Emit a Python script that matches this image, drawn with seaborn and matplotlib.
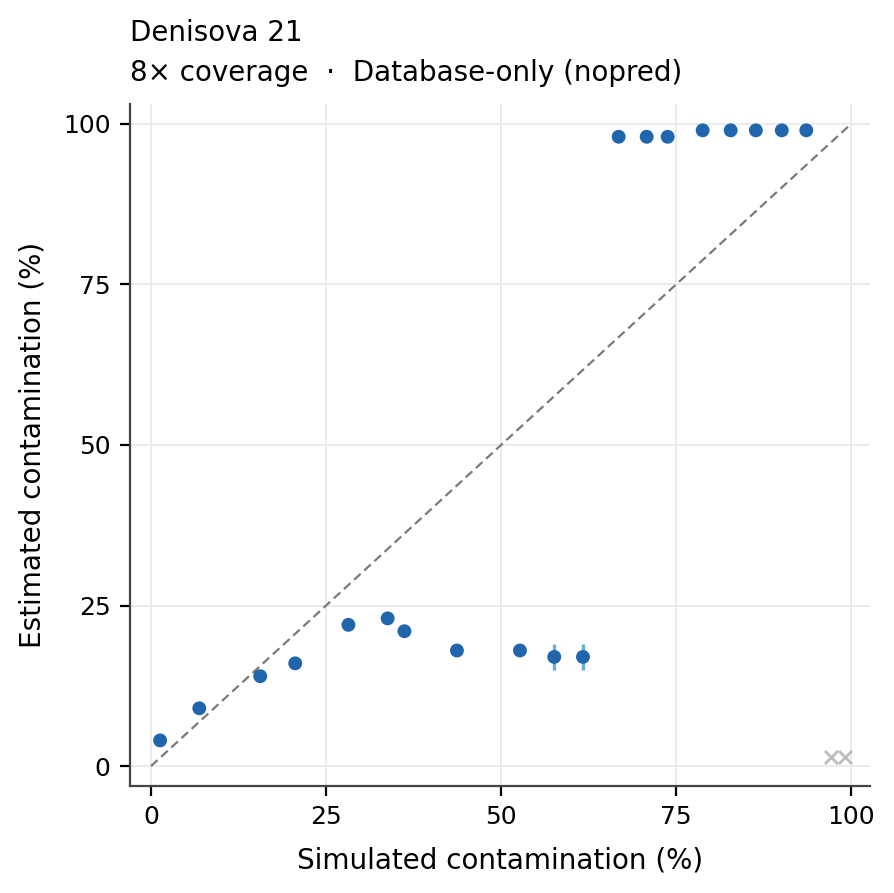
import numpy as np
import pandas as pd
import matplotlib
matplotlib.use("Agg")
import matplotlib.pyplot as plt
import seaborn as sns

simulated = [1.3, 6.9, 15.6, 20.6, 28.2, 33.8, 36.2, 43.7, 52.7, 57.6, 61.7,
             66.8, 70.8, 73.8, 78.8, 82.8, 86.4, 90.1, 93.6]
estimated = [4, 9, 14, 16, 22, 23, 21, 18, 18, 17, 17,
             98, 98, 98, 99, 99, 99, 99, 99]
err_lo = [0, 0, 0, 0, 0, 0, 0, 0, 0, 2.0, 2.0, 0, 0, 0, 0, 0, 0, 0, 0]
err_hi = [0, 0, 0, 0, 0, 0, 0, 0, 0, 2.0, 2.0, 0, 0, 0, 0, 0, 0, 0, 0]
failed_x = [97.1, 99.1]
failed_y = [1.4, 1.4]

df = pd.DataFrame({"sim": simulated, "est": estimated, "lo": err_lo, "hi": err_hi})
dff = pd.DataFrame({"sim": failed_x, "est": failed_y})

sns.set_theme(style="white")
plt.rcParams['font.family'] = ['DejaVu Sans']
plt.rcParams['text.color'] = 'black'
plt.rcParams['axes.labelcolor'] = 'black'

fig = plt.figure(figsize=(4.47, 4.465), dpi=200)
ax = fig.add_axes([130/894, 1 - 786/893, 740/894, 682/893])

ax.grid(True, color="#ebebeb", linewidth=0.7)
ax.set_axisbelow(True)

ax.plot([0, 100], [0, 100], ls=(0, (4, 2.2)), color="#7a7a7a", lw=0.8, zorder=1)

m = (df["lo"] > 0) | (df["hi"] > 0)
ax.errorbar(df.loc[m, "sim"], df.loc[m, "est"], yerr=[df.loc[m, "lo"], df.loc[m, "hi"]],
            fmt="none", ecolor="#6baed6", elinewidth=1.2, capsize=0, zorder=2)

sns.scatterplot(data=df, x="sim", y="est", ax=ax, color="#2166ac", s=25,
                edgecolor="none", linewidth=0, zorder=3, legend=False)
sns.scatterplot(data=dff, x="sim", y="est", ax=ax, color="#bdbdbd", marker="x",
                s=22, linewidth=1.0, zorder=3, legend=False)

ax.set_xlim(-3.0, 102.7)
ax.set_ylim(-3.1, 103.1)
ax.set_xticks([0, 25, 50, 75, 100])
ax.set_yticks([0, 25, 50, 75, 100])
ax.tick_params(axis="both", labelsize=9, length=3.5, width=0.8, colors="black",
               left=True, bottom=True)
ax.set_xlabel("Simulated contamination (%)", fontsize=10, labelpad=6)
ax.set_ylabel("Estimated contamination (%)", fontsize=10, labelpad=6)

for s in ["top", "right"]:
    ax.spines[s].set_visible(False)
for s in ["left", "bottom"]:
    ax.spines[s].set_color("#444444")
    ax.spines[s].set_linewidth(0.8)

fig.text(130/894, 1 - 33/893, "Denisova 21", fontsize=10, va="center", ha="left")
fig.text(130/894, 1 - 73/893, "8× coverage  ·  Database-only (nopred)", fontsize=10,
         va="center", ha="left")

fig.savefig("out.png", dpi=200)
